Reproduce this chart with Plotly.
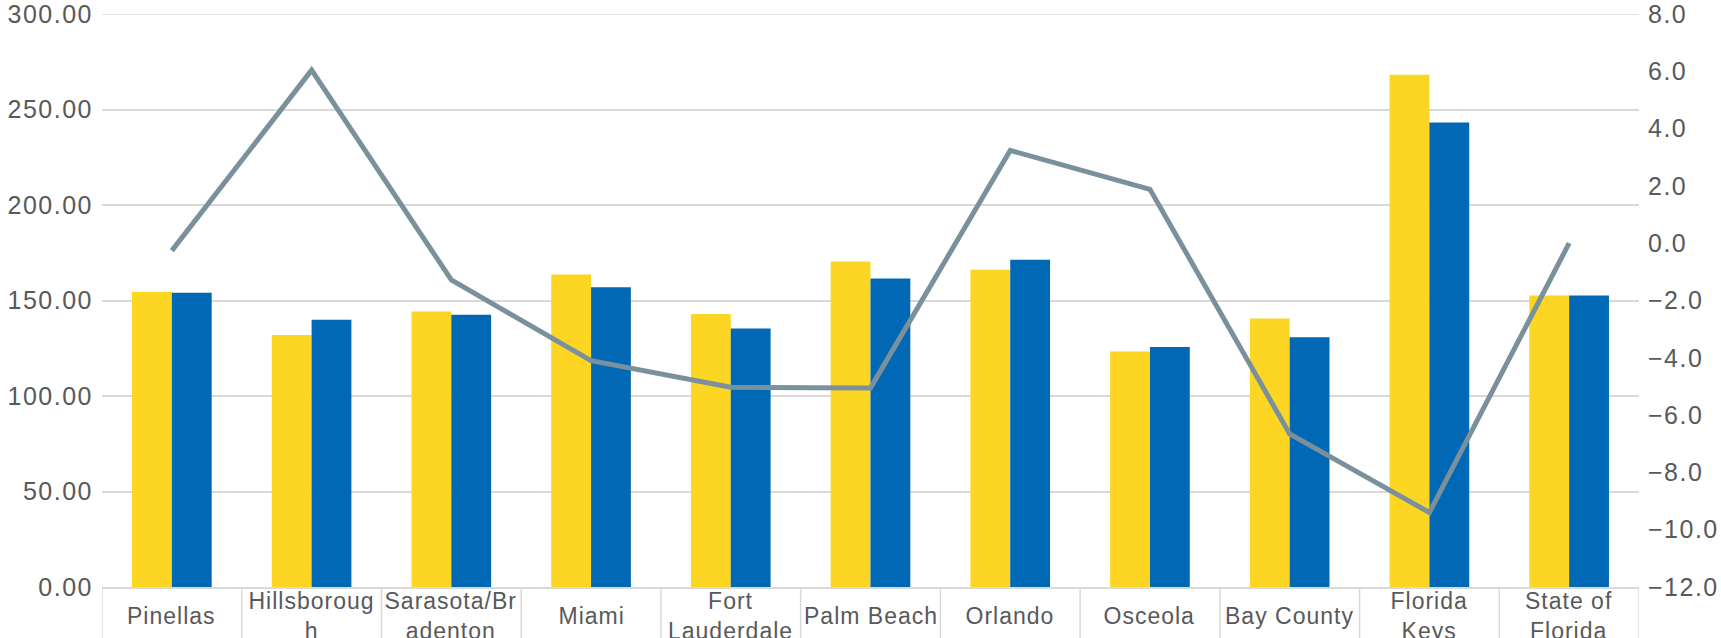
import plotly.graph_objects as go

# Category names and their wrapped display labels
categories = ["Pinellas", "Hillsborough", "Sarasota/Bradenton", "Miami", "Fort Lauderdale",
              "Palm Beach", "Orlando", "Osceola", "Bay County", "Florida Keys", "State of Florida"]
category_labels = ["Pinellas", "Hillsboroug<br>h", "Sarasota/Br<br>adenton", "Miami",
                   "Fort<br>Lauderdale", "Palm Beach", "Orlando", "Osceola", "Bay County",
                   "Florida<br>Keys", "State of<br>Florida"]

# Bar series (left axis)
series_a = [154.4, 132.0, 144.2, 163.6, 142.9, 170.4, 166.1, 123.3, 140.6, 268.2, 152.6]
series_b = [154.0, 139.9, 142.5, 157.0, 135.4, 161.5, 171.3, 125.6, 130.8, 243.2, 152.6]

# Line series (right axis)
change = [-0.26, 6.04, -1.28, -4.1, -5.03, -5.05, 3.24, 1.88, -6.66, -9.4, 0.0]

Y_MAX = 300

YELLOW = "#FCD622"
BLUE = "#0068B4"
SLATE = "#7A919D"
GRID = "#D9D9D9"
TEXT = "#595959"
FONT = "Liberation Sans, Arial, sans-serif"

fig = go.Figure()
fig.add_trace(go.Bar(x=categories, y=series_a, marker=dict(color=YELLOW, line=dict(width=0)),
                     yaxis="y"))
fig.add_trace(go.Bar(x=categories, y=series_b, marker=dict(color=BLUE, line=dict(width=0)),
                     yaxis="y"))
fig.add_trace(go.Scatter(x=categories, y=change, mode="lines", yaxis="y2",
                         line=dict(color=SLATE, width=5)))

# Boxed category labels below the axis
n = len(categories)
plot_h = 638 - 14 - 51
box_depth = 51 / plot_h
shapes = []
for i in range(n + 1):
    shapes.append(dict(type="line", xref="x", yref="paper", x0=i - 0.5, x1=i - 0.5,
                       y0=0, y1=-box_depth - 0.01, line=dict(color=GRID, width=1.5)))
# gridline along the top edge of the value axis
shapes.append(dict(type="line", xref="paper", yref="y", x0=0, x1=1, y0=Y_MAX, y1=Y_MAX,
                   layer="below", line=dict(color=GRID, width=1.5)))
annotations = []
for cat, lab in zip(categories, category_labels):
    annotations.append(dict(x=cat, xref="x", yref="paper", y=-29 / plot_h, yanchor="middle",
                            text=lab, showarrow=False,
                            font=dict(family=FONT, size=23, color=TEXT)))

fig.update_layout(
    width=1721, height=638,
    margin=dict(l=102, r=82, t=14, b=51),
    paper_bgcolor="white", plot_bgcolor="white",
    barmode="group", bargap=0.43, bargroupgap=0,
    showlegend=False,
    shapes=shapes, annotations=annotations,
    xaxis=dict(showticklabels=False, showline=True, linecolor=GRID, linewidth=1.5,
               showgrid=False, ticks="", range=[-0.5, n - 0.5], automargin=False),
    yaxis=dict(range=[0, Y_MAX], dtick=50, tickformat=".2f", showgrid=True, gridcolor=GRID,
               gridwidth=1.5, zeroline=False, ticks="", ticklabelstandoff=8,
               ticklabeloverflow="allow", automargin=False,
               tickfont=dict(family=FONT, size=25, color=TEXT)),
    yaxis2=dict(range=[-12, 8], dtick=2, tickformat=".1f", overlaying="y", side="right",
                showgrid=False, zeroline=False, ticks="", ticklabelstandoff=8,
                ticklabeloverflow="allow", automargin=False,
                tickfont=dict(family=FONT, size=25, color=TEXT)),
)

# Slightly open letter spacing on axis and category text
spacing_js = """
var gd = document.querySelector('.plotly-graph-div');
gd.querySelectorAll('.ytick text, .y2tick text').forEach(function(t){ t.style.letterSpacing = '1.5px'; });
gd.querySelectorAll('.annotation-text').forEach(function(t){ t.style.letterSpacing = '1px'; });
"""

fig.write_html("out.html", post_script=spacing_js)
